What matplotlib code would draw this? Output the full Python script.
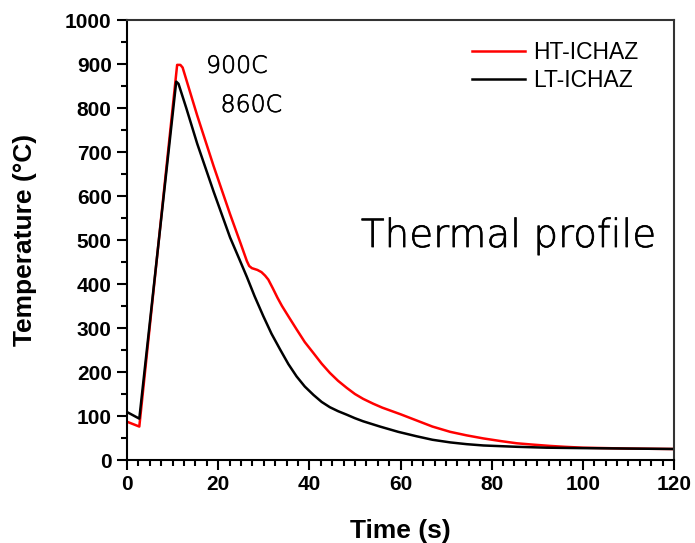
import matplotlib
matplotlib.use("Agg")
import matplotlib.pyplot as plt
import matplotlib.patheffects as pe
from matplotlib.ticker import MultipleLocator

# Data
ht_time = [0, 2.7, 11.0, 11.7, 12.2, 15.4, 19.0, 22.6, 25.0, 26.3, 26.8, 27.4, 28.0, 28.6,
           29.5, 30.3, 31.0, 32.0, 33.0, 34.0, 35.5, 37.2, 39.0, 40.9, 42.7, 44.5,
           46.3, 48.2, 50.0, 51.8, 54.0, 56.0, 60.0, 63.5, 67.0, 70.9, 74.5, 78.2,
           82.0, 85.5, 89.0, 92.8, 96.0, 100, 105, 110, 120]
ht_temp = [87, 76, 898, 898, 892, 783, 668, 559, 490, 452, 441, 436, 434, 432,
           427, 419, 410, 390, 369, 350, 325, 297, 268, 243, 219, 198,
           180, 164, 150, 139, 128, 119, 104, 90, 76, 64, 56, 49,
           43, 38, 35, 32, 30, 28, 27, 26, 25]

lt_time = [0, 2.7, 10.8, 11.3, 13.0, 15.4, 19.0, 22.6, 24.5, 26.3, 28.0, 29.9, 31.7,
           33.6, 35.4, 37.2, 39.0, 40.9, 42.7, 44.5, 46.3, 48.2, 50.0, 51.8, 55.5,
           59.5, 63.5, 67.0, 70.9, 74.5, 78.2, 85.5, 92.0, 100, 110, 120]
lt_temp = [109, 94, 860, 855, 800, 719, 610, 506, 460, 416, 372, 327, 287,
           251, 218, 190, 167, 148, 132, 120, 111, 103, 95, 88, 76,
           64, 54, 46, 40, 36, 33, 30, 28, 27, 26, 25]

series_labels = ["HT-ICHAZ", "LT-ICHAZ"]
peak_labels = ["900C", "860C"]
title_text = "Thermal profile"

fig = plt.figure(figsize=(6.95, 5.43), dpi=100)
ax = fig.add_axes([127/695, 1-460/543, (674-127)/695, (460-20)/543])

ax.plot(ht_time, ht_temp, color="#ff0000", lw=1.8, label=series_labels[0])
ax.plot(lt_time, lt_temp, color="black", lw=1.8, label=series_labels[1])

ax.set_xlim(0, 120)
ax.set_ylim(0, 1000)
ax.xaxis.set_major_locator(MultipleLocator(20))
ax.xaxis.set_minor_locator(MultipleLocator(2.5))
ax.yaxis.set_major_locator(MultipleLocator(100))
ax.yaxis.set_minor_locator(MultipleLocator(50))
ax.tick_params(which="both", direction="out", top=False, right=False, width=1.5)
ax.tick_params(which="major", length=7, labelsize=15, pad=4)
ax.tick_params(which="minor", length=4)
for lab in ax.get_xticklabels() + ax.get_yticklabels():
    lab.set_fontfamily("Liberation Sans")
    lab.set_fontweight("bold")
for s in ax.spines.values():
    s.set_linewidth(1.5)
ax.spines["top"].set_color("#333333")
ax.spines["right"].set_color("#333333")

ax.set_xlabel("Time (s)", fontsize=19, fontweight="bold", family="Liberation Sans", labelpad=18)
ax.set_ylabel("Temperature (°C)", fontsize=19, fontweight="bold", family="Liberation Sans", labelpad=20)

leg = ax.legend(loc="upper right", frameon=False, prop={"family": "Liberation Sans", "size": 16.5},
                handlelength=2.3, handletextpad=0.35, labelspacing=0.22,
                bbox_to_anchor=(0.972, 1.0))

thin = dict(family=["DejaVu Sans"], weight=200, color="black")
stroke = [pe.withStroke(linewidth=0.45, foreground="black")]
ax.text(24.1, 896, peak_labels[0], fontsize=17, ha="center", va="center",
        path_effects=stroke, **thin)
ax.text(27.3, 807, peak_labels[1], fontsize=17, ha="center", va="center",
        path_effects=stroke, **thin)
ax.text(51.3, 484, title_text, fontsize=28, ha="left", va="baseline",
        path_effects=stroke, **thin)

fig.savefig("out.png", dpi=100)
